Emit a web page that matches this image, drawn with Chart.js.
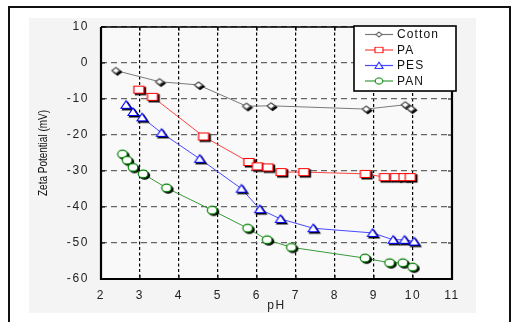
<!DOCTYPE html>
<html>
<head>
<meta charset="utf-8">
<script src="https://cdn.jsdelivr.net/npm/chart.js@4.4.1/dist/chart.umd.min.js"></script>
<style>
html,body{margin:0;padding:0;background:#fff;}
#wrap{position:relative;width:511px;height:322px;}
</style>
</head>
<body>
<div id="wrap"><canvas id="c" width="511" height="322"></canvas></div>
<script>
// ---- data ----
const seriesNames = ['Cotton', 'PA', 'PES', 'PAN'];
const phCotton = [2.38, 3.50, 4.50, 5.73, 6.36, 8.80, 9.80, 9.95];
const zetaCotton = [-2.1, -5.2, -6.1, -12.0, -11.9, -12.8, -11.6, -12.7];
const phPA = [2.97, 3.32, 4.63, 5.79, 6.01, 6.28, 6.62, 7.20, 8.78, 9.27, 9.55, 9.77, 9.93];
const zetaPA = [-7.4, -9.4, -20.4, -27.5, -28.7, -29.0, -30.3, -30.3, -30.8, -31.7, -31.7, -31.7, -31.7];
const phPES = [2.64, 2.82, 3.05, 3.55, 4.53, 5.60, 6.07, 6.60, 7.44, 8.96, 9.49, 9.78, 10.03];
const zetaPES = [-11.6, -13.6, -15.1, -19.4, -26.6, -34.9, -40.6, -43.3, -45.9, -47.2, -49.1, -49.1, -49.6];
const phPAN = [2.55, 2.67, 2.82, 3.08, 3.68, 4.85, 5.76, 6.26, 6.88, 8.77, 9.40, 9.74, 9.99];
const zetaPAN = [-25.3, -27.0, -29.0, -30.8, -34.7, -40.9, -45.9, -49.1, -51.2, -54.2, -55.5, -55.5, -56.7];
const xTicks = [2, 3, 4, 5, 6, 7, 8, 9, 10, 11];
const yTicks = [10, 0, -10, -20, -30, -40, -50, -60];
const xTitle = 'pH';
const yTitle = 'Zeta Potential (mV)';

// ---- styles ----
const FONT = "'Liberation Sans', Arial, sans-serif";
const lineColors = ['#7a7a7a', '#ff4444', '#4a4aff', '#3a9a3a'];
const markColors = ['#555555', '#ff0000', '#0000ff', '#008000'];
const shapes = ['diamond', 'square', 'triangle', 'circle'];

function shapePath(ctx, shape, cx, cy) {
  ctx.beginPath();
  if (shape === 'diamond') {
    ctx.moveTo(cx - 4, cy); ctx.lineTo(cx, cy - 3); ctx.lineTo(cx + 4, cy); ctx.lineTo(cx, cy + 3); ctx.closePath();
  } else if (shape === 'square') {
    ctx.rect(cx - 5, cy - 3.5, 10, 7);
  } else if (shape === 'triangle') {
    ctx.moveTo(cx - 5, cy + 3.5); ctx.lineTo(cx, cy - 4); ctx.lineTo(cx + 5, cy + 3.5); ctx.closePath();
  } else {
    ctx.ellipse(cx, cy, 4.8, 3.8, 0, 0, Math.PI * 2);
  }
}
function makeMarker(i, shadow) {
  const cv = document.createElement('canvas');
  cv.width = 18; cv.height = 16;
  const ctx = cv.getContext('2d');
  const cx = 9, cy = 8;
  if (shadow) {
    shapePath(ctx, shapes[i], cx + 1.6, cy + 1.4);
    ctx.fillStyle = '#000'; ctx.fill();
    ctx.lineWidth = 1.3; ctx.strokeStyle = '#000'; ctx.stroke();
  }
  shapePath(ctx, shapes[i], cx, cy);
  ctx.fillStyle = '#fff'; ctx.fill();
  ctx.lineWidth = 1.2; ctx.strokeStyle = markColors[i]; ctx.stroke();
  return cv;
}
const markers = [0, 1, 2, 3].map(i => makeMarker(i, true));
const legendMarkers = [0, 1, 2, 3].map(i => makeMarker(i, false));

function pts(xs, ys) { return xs.map((x, k) => ({ x: x, y: ys[k] })); }
const allX = [phCotton, phPA, phPES, phPAN];
const allY = [zetaCotton, zetaPA, zetaPES, zetaPAN];

const datasets = seriesNames.map((name, i) => ({
  label: name,
  data: pts(allX[i], allY[i]),
  borderColor: lineColors[i],
  backgroundColor: '#fff',
  borderWidth: 1,
  pointStyle: markers[i],
  pointRadius: 5,
  pointHoverRadius: 5,
  tension: 0,
  clip: false
}));

// background, outer frame
const bgPlugin = {
  id: 'bg',
  beforeDraw(chart) {
    const ctx = chart.ctx;
    ctx.save();
    ctx.fillStyle = '#ffffff';
    ctx.fillRect(0, 0, chart.width, chart.height);
    ctx.fillStyle = '#f4f4f4';
    ctx.fillRect(29, 18, 447, 295);
    const a = chart.chartArea;
    ctx.fillStyle = '#f9f9f9';
    ctx.fillRect(a.left, a.top, a.right - a.left, a.bottom - a.top);
    ctx.strokeStyle = '#111';
    ctx.lineWidth = 2;
    ctx.beginPath();
    ctx.moveTo(9, 330); ctx.lineTo(9, 7); ctx.lineTo(510, 7); ctx.lineTo(510, 330);
    ctx.stroke();
    ctx.restore();
    // widen the tick text a little, as in the (horizontally stretched) original
    ctx.letterSpacing = '1.6px';
  }
};

// axes box with inward ticks
const framePlugin = {
  id: 'frame',
  beforeDatasetsDraw(chart) {
    const ctx = chart.ctx, a = chart.chartArea;
    const xs = chart.scales.x, ys = chart.scales.y;
    ctx.save();
    ctx.strokeStyle = '#000';
    ctx.lineWidth = 1;
    ctx.beginPath();
    xTicks.forEach(v => {
      const p = xs.getPixelForValue(v);
      ctx.moveTo(p, a.bottom); ctx.lineTo(p, a.bottom - 4);
      ctx.moveTo(p, a.top); ctx.lineTo(p, a.top + 4);
    });
    yTicks.forEach(v => {
      const p = ys.getPixelForValue(v);
      ctx.moveTo(a.left, p); ctx.lineTo(a.left + 4, p);
      ctx.moveTo(a.right, p); ctx.lineTo(a.right - 4, p);
    });
    ctx.stroke();
    ctx.lineWidth = 2.2;
    ctx.beginPath();
    ctx.moveTo(a.left, a.top); ctx.lineTo(a.left, a.bottom); ctx.lineTo(a.right, a.bottom); ctx.lineTo(a.right, a.top);
    ctx.stroke();
    ctx.lineWidth = 1.6;
    ctx.beginPath();
    ctx.moveTo(a.left, a.top); ctx.lineTo(a.right, a.top);
    ctx.stroke();
    ctx.restore();
  }
};

// boxed legend inside the plot (top-right) and condensed y-axis title
const legendPlugin = {
  id: 'boxLegend',
  afterDraw(chart) {
    const ctx = chart.ctx, a = chart.chartArea;
    const right = a.right + 4, top = a.top - 1;
    const w = 102, h = 65, left = right - w;
    ctx.save();
    ctx.fillStyle = '#ffffff';
    ctx.fillRect(left, top, w, h);
    ctx.strokeStyle = '#000';
    ctx.lineWidth = 1.6;
    ctx.strokeRect(left, top, w, h);
    ctx.font = '12px ' + FONT;
    ctx.letterSpacing = '1.1px';
    ctx.textBaseline = 'middle';
    ctx.textAlign = 'left';
    chart.data.datasets.forEach((ds, i) => {
      const y = top + 8.5 + i * 15.5;
      ctx.strokeStyle = ds.borderColor;
      ctx.lineWidth = 1.2;
      ctx.beginPath();
      ctx.moveTo(left + 11, y); ctx.lineTo(left + 39, y);
      ctx.stroke();
      const m = legendMarkers[i];
      ctx.save();
      ctx.translate(left + 25, y);
      ctx.scale(0.8, 0.8);
      ctx.drawImage(m, -m.width / 2, -m.height / 2);
      ctx.restore();
      ctx.fillStyle = '#111';
      ctx.fillText(ds.label, left + 43, y + 0.5);
    });
    ctx.restore();

    // y-axis title: condensed, centred on the plot height
    ctx.save();
    ctx.letterSpacing = '0px';
    ctx.font = '12px ' + FONT;
    const tw = ctx.measureText(yTitle).width;
    const cy = (a.top + a.bottom) / 2;
    ctx.translate(44, cy);
    ctx.rotate(-Math.PI / 2);
    ctx.scale(86 / tw, 1);
    ctx.textAlign = 'center';
    ctx.textBaseline = 'middle';
    ctx.fillStyle = '#111';
    ctx.fillText(yTitle, 0, 0);
    ctx.restore();
  }
};

new Chart(document.getElementById('c'), {
  type: 'line',
  data: { datasets: datasets },
  plugins: [bgPlugin, framePlugin, legendPlugin],
  options: {
    responsive: false,
    animation: false,
    events: [],
    layout: { padding: { left: 29, right: 59, top: 27, bottom: 9 } },
    plugins: { legend: { display: false }, tooltip: { enabled: false } },
    scales: {
      x: {
        type: 'linear',
        min: 2, max: 11,
        afterBuildTicks(scale) { scale.ticks = xTicks.map(v => ({ value: v })); },
        afterFit(scale) { scale.height = 34; },
        grid: { color: '#000', lineWidth: 1.2, drawTicks: false, display: true },
        border: { display: false, dash: [3, 2.5] },
        ticks: { color: '#222', font: { family: FONT, size: 12 }, padding: 9, maxRotation: 0, autoSkip: false },
        title: { display: true, text: xTitle, color: '#222', font: { family: FONT, size: 12 }, padding: { top: 1, bottom: 0 } }
      },
      y: {
        type: 'linear',
        min: -60, max: 10,
        afterBuildTicks(scale) { scale.ticks = yTicks.map(v => ({ value: v })); },
        afterFit(scale) { scale.width = 72; },
        grid: { color: '#666', lineWidth: 1.2, drawTicks: false },
        border: { display: false, dash: [6, 4] },
        ticks: { color: '#222', font: { family: FONT, size: 12 }, padding: 12, autoSkip: false },
        title: { display: false, text: yTitle }
      }
    }
  }
});
</script>
</body>
</html>
